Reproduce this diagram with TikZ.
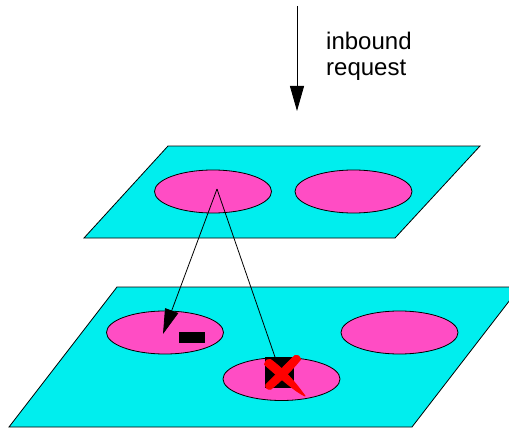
\documentclass[tikz,border=0pt]{standalone}
\usepackage{fontspec}
\setmainfont{Liberation Sans}
\usetikzlibrary{arrows.meta,shapes.geometric}
\definecolor{planecol}{RGB}{0,238,238}
\definecolor{blobcol}{RGB}{255,77,196}
\begin{document}
\begin{tikzpicture}[x=1pt,y=-1pt,
  plane/.style={fill=planecol,draw=black,line width=0.8pt,line join=miter},
  blob/.style={ellipse,fill=blobcol,draw=black,line width=0.8pt,minimum width=117pt,minimum height=43pt,inner sep=0pt},
  link/.style={draw=black,line width=0.8pt},
  tiparrow/.style={-{Triangle[length=25pt,width=14pt]}},
  marker/.style={fill=black,inner sep=0pt},
  cross/.style={fill=red,draw=red,line width=1pt,line join=round}
]
\useasboundingbox (0,0) rectangle (509,428);
\clip (0,0) rectangle (509,428);
\fill[white] (0,0) rectangle (509,428);
% upper plane
\draw[plane] (168,146) -- (480,146) -- (395,238) -- (84,238) -- cycle;
\node[blob] (t1) at (213,191.5) {};
\node[blob] (t2) at (353.5,191.5) {};
% lower plane
\draw[plane] (117,287) -- (520,287) -- (412,427) -- (9,427) -- cycle;
\node[blob] (b1) at (165,332.5) {};
\node[blob] (b2) at (399.5,332.5) {};
\node[blob] (b3) at (281.5,379) {};
% markers
\node[marker,minimum width=26pt,minimum height=11pt] (rec) at (192,337.5) {};
\node[marker,minimum width=29pt,minimum height=31pt] (sq) at (279.5,372.5) {};
% red brush cross
\path[cross] (264.5,364.5) .. controls (266,360) and (268,358.5) .. (270.5,359.5)
  .. controls (282,368) and (292,378) .. (305,396)
  .. controls (296,392) and (280,378) .. cycle;
\path[cross] (295,355.5) .. controls (297,354.5) and (300,356) .. (300.5,359.5)
  .. controls (292,370) and (280,382) .. (271,389)
  .. controls (268,390) and (265,388) .. (266,384.5)
  .. controls (276,375) and (286,364) .. cycle;
% connectors
\coordinate (src) at (217,189);
\coordinate (hit) at (163,334);
\coordinate (sqtop) at (275,357);
\draw[link,tiparrow] (src) -- (hit);
\draw[link] (src) -- (sqtop);
% inbound
\coordinate (in0) at (297,6);
\coordinate (in1) at (297,111);
\draw[link,tiparrow] (in0) -- (in1);
\node[anchor=north west,align=left,inner sep=0pt,font=\fontsize{24}{26}\selectfont] (lbl) at (326,32) {inbound\\request};
\end{tikzpicture}
\end{document}
